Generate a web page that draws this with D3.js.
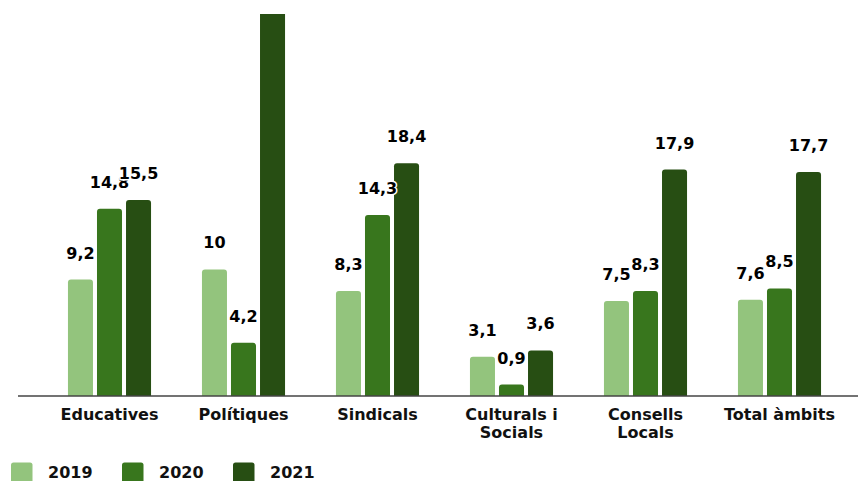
<!DOCTYPE html>
<html><head><meta charset="utf-8">
<script src="https://cdn.jsdelivr.net/npm/d3@7"></script>
<style>
html,body{margin:0;padding:0;background:#fff;overflow:hidden;}
text{font-family:"DejaVu Sans",Verdana,sans-serif;font-weight:bold;}
</style></head><body>
<svg id="c" width="858" height="481"></svg>
<script>
const categories = [["Educatives"],["Polítiques"],["Sindicals"],["Culturals i","Socials"],["Consells","Locals"],["Total àmbits"]];
const years = ["2019","2020","2021"];
const v2019 = [9.2, 10, 8.3, 3.1, 7.5, 7.6];
const v2020 = [14.8, 4.2, 14.3, 0.9, 8.3, 8.5];
const v2021 = [15.5, 32, 18.4, 3.6, 17.9, 17.7];
const labels2019 = ["9,2","10","8,3","3,1","7,5","7,6"];
const labels2020 = ["14,8","4,2","14,3","0,9","8,3","8,5"];
const labels2021 = ["15,5","32","18,4","3,6","17,9","17,7"];
const colors = ["#93c47d","#38761d","#274e13"];

const series = [v2019, v2020, v2021];
const seriesLabels = [labels2019, labels2020, labels2021];
const catKeys = categories.map(c => c.join(" "));

const svg = d3.select("#c");
const baseY = 396, topY = 14;
const x0 = d3.scaleBand().domain(catKeys).range([42.5, 846.5]).paddingInner(0.38).paddingOuter(0.19);
const x1 = d3.scaleBand().domain(years).range([0, x0.bandwidth()]).paddingInner(0.138).paddingOuter(0);
const y = d3.scaleLinear().domain([0, 31.3]).range([baseY, 0]);

svg.append("defs").append("clipPath").attr("id","plot")
  .append("rect").attr("x",0).attr("y",topY).attr("width",858).attr("height",baseY-topY);

const data = [];
catKeys.forEach((c,i) => years.forEach((yr,j) => data.push({c, yr, j, v: series[j][i], l: seriesLabels[j][i]})));

const plot = svg.append("g").attr("clip-path","url(#plot)");
plot.selectAll("rect.bar").data(data).enter().append("rect")
  .attr("class","bar")
  .attr("x", d => x0(d.c) + x1(d.yr))
  .attr("y", d => y(d.v))
  .attr("width", x1.bandwidth())
  .attr("height", d => baseY - y(d.v) + 4)
  .attr("rx", 3)
  .attr("fill", d => colors[d.j]);

// axis line
svg.append("line").attr("x1",18).attr("x2",858).attr("y1",baseY).attr("y2",baseY)
  .attr("stroke","#444").attr("stroke-width",1.5);

// value labels (labels whose position falls outside the plot area are not shown)
svg.append("g").selectAll("text.val").data(data.filter(d => y(d.v) - 21 - 12 > topY)).enter().append("text")
  .attr("class","val")
  .attr("x", d => x0(d.c) + x1(d.yr) + x1.bandwidth()/2)
  .attr("y", d => y(d.v) - 21)
  .attr("text-anchor","middle")
  .attr("font-size",16)
  .attr("fill","#000")
  .attr("stroke","#fff").attr("stroke-width",3).attr("paint-order","stroke")
  .attr("stroke-linejoin","round")
  .text(d => d.l);

// category labels
const cg = svg.append("g");
categories.forEach((lines,i) => {
  const t = cg.append("text")
    .attr("x", x0(catKeys[i]) + x0.bandwidth()/2)
    .attr("y", 420)
    .attr("text-anchor","middle")
    .attr("font-size",16)
    .attr("fill","#111");
  lines.forEach((ln,k) => t.append("tspan").attr("x", x0(catKeys[i]) + x0.bandwidth()/2).attr("dy", k===0?0:18.3).text(ln));
});

// legend
const lg = svg.append("g");
years.forEach((yr,j) => {
  const lx = 11 + j*111;
  lg.append("rect").attr("x", lx).attr("y", 462.5).attr("width", 21.5).attr("height", 22).attr("rx",2.5).attr("fill", colors[j]);
  lg.append("text").attr("x", lx+37).attr("y", 478).attr("font-size",16).attr("fill","#111").text(yr);
});
</script></body></html>
